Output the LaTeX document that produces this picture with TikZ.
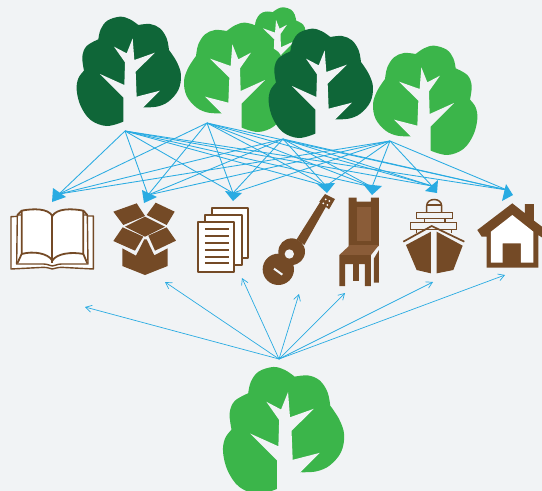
\documentclass[tikz,border=0pt]{standalone}
\usetikzlibrary{arrows.meta}
\definecolor{bg}{HTML}{F1F3F5}
\definecolor{lgreen}{HTML}{3BB54A}
\definecolor{dgreen}{HTML}{0F6638}
\definecolor{brown}{HTML}{744A26}
\definecolor{lbrown}{HTML}{8A5C38}
\definecolor{sky}{HTML}{29ABE2}
\tikzset{
  link/.style={draw=sky,line width=0.85pt},
  openlink/.style={draw=sky,line width=0.7pt,-{Straight Barb[length=6pt,width=7pt,line width=0.7pt]}},
  headtri/.style={fill=sky},
  bline/.style={draw=brown,line width=1.8pt,line join=round},
  bfill/.style={fill=brown},
  pagefill/.style={fill=white,draw=brown,line width=1.8pt,line join=round}
}
\newcommand{\drawtree}[1]{%
    \fill[#1] plot[smooth,tension=.6] coordinates{(160,365)(110,378)(62,360)(32,318)(20,270)(25,235)(42,212)}
      -- plot[smooth,tension=.6] coordinates{(42,212)(37,170)(50,138)(85,118)}
      -- plot[smooth,tension=.6] coordinates{(85,118)(92,88)(112,62)(150,50)(180,58)(205,75)}
      -- plot[smooth,tension=.6] coordinates{(205,75)(240,72)(270,85)(290,115)(297,150)}
      -- plot[smooth,tension=.6] coordinates{(297,150)(320,185)(333,225)(325,270)(295,305)(260,320)(220,322)} -- cycle;
    \fill[bg] (160,385)--(160,292)--(90,222)--(163,255)--(165,187)--(132,140)--(170,160)--(188,115)--(193,180)--(255,158)--(197,215)--(200,290)--(270,272)--(220,322)--(220,385)--cycle;
}
\begin{document}
\begin{tikzpicture}[x=1pt,y=-1pt]
\useasboundingbox (0,0) rectangle (542,491);
\fill[bg] (0,0) rectangle (542,491);
\clip (0,0) rectangle (542,491);
% trees; reference frame: px = offset + zoomcoord/3
\begin{scope}[shift={(312.7,-2.5)},xscale=-0.195,yscale=0.195]\drawtree{lgreen}\end{scope}
\begin{scope}[shift={(295,6)},xscale=-1/3,yscale=1/3]\drawtree{lgreen}\end{scope}
\begin{scope}[shift={(262,12)},xscale=1/3,yscale=1/3]\drawtree{dgreen}\end{scope}
\begin{scope}[shift={(70,0)},xscale=1/3,yscale=1/3]\drawtree{dgreen}\end{scope}
\begin{scope}[shift={(484,29)},xscale=-1/3,yscale=1/3]\drawtree{lgreen}\end{scope}
\begin{scope}[shift={(215.3,347.6)},xscale=0.387,yscale=0.387]\drawtree{lgreen}\end{scope}
% coordinates
\coordinate (srcA) at (125,131);
\coordinate (srcB) at (207,123);
\coordinate (srcC) at (283,139);
\coordinate (srcD) at (390,141);
\coordinate (srcE) at (279,359);
\coordinate (tBook) at (59,194);
\coordinate (tBox) at (148,195);
\coordinate (tPaper) at (233,193);
\coordinate (tGuitar) at (326,186);
\coordinate (tChair) at (372,187);
\coordinate (tShip) at (432,186);
\coordinate (tHouse) at (507,190);
\foreach \s in {srcA,srcB,srcC,srcD}
  \foreach \t in {tBook,tBox,tPaper,tGuitar,tChair,tShip,tHouse}
    \draw[link] (\s) -- (\t);
\fill[headtri] (53,188)--(52,202)--(66,197)--cycle;
\fill[headtri] (142,190)--(144,203)--(157,197)--cycle;
\fill[headtri] (225,191)--(233,201)--(242,193)--cycle;
\fill[headtri] (317,184)--(327,193)--(335,183)--cycle;
\fill[headtri] (363,184)--(372,195)--(382,186)--cycle;
\fill[headtri] (425,191)--(438,180)--(437,193)--cycle;
\fill[headtri] (502,201)--(506,184)--(513,195)--cycle;
\coordinate (bBook) at (85,307);
\coordinate (bBox) at (165,282);
\coordinate (bPaper) at (242,278);
\coordinate (bGuitar) at (299,294);
\coordinate (bChair) at (345,293);
\coordinate (bShip) at (433,282);
\coordinate (bHouse) at (505,275);
\foreach \t in {bBook,bBox,bPaper,bGuitar,bChair,bShip,bHouse}
  \draw[openlink] (srcE) -- (\t);
% icons left (zoom coords x/3, 180+y/3)
\begin{scope}[shift={(0,180)},xscale=1/3,yscale=1/3]
 % book
 \draw[pagefill,line width=1.4pt] (33,110)--(33,267)--(130,262) .. controls (145,262) and (150,266) .. (157,267) .. controls (165,266) and (170,262) .. (185,262)--(280,267)--(280,108)--(240,108)--(75,108)--cycle;
 \draw[pagefill,line width=1.4pt] (52,105)--(50,252)--(130,252) .. controls (145,252) and (150,258) .. (157,258) .. controls (165,258) and (170,252) .. (185,252)--(264,252)--(262,105)--cycle;
 \draw[pagefill] (65,92) .. controls (100,85) and (145,85) .. (157,108) .. controls (170,85) and (215,85) .. (250,92)--(250,222) .. controls (215,215) and (170,220) .. (157,242) .. controls (145,220) and (100,212) .. (65,222)--cycle;
 \draw[bline] (157,108)--(157,250);
 \draw[bline] (65,222)--(52,250);
 \draw[bline] (250,222)--(262,250);
 \draw[bline] (65,92)--(52,105);
 \draw[bline] (250,92)--(262,105);
 % box
 \fill[bfill] (340,95)--(410,70)--(435,108)--(370,135)--cycle;
 \fill[bfill] (440,105)--(467,68)--(524,95)--(500,135)--cycle;
 \fill[bfill] (375,140)--(435,110)--(495,140)--(435,170)--cycle;
 \fill[bfill] (340,183)--(368,142)--(430,170)--(405,212)--cycle;
 \fill[bfill] (445,167)--(500,142)--(528,182)--(465,212)--cycle;
 \fill[bfill] (367,205)--(408,227)--(433,178)--(440,178)--(463,226)--(503,205)--(503,258)--(435,285)--(367,258)--cycle;
 % papers
 \draw[pagefill] (635,85) rectangle (745,235);
 \draw[pagefill] (615,105) rectangle (725,255);
 \draw[pagefill] (595,127) rectangle (703,277);
 \foreach \yy in {146,167,188,209,230,248}
   \draw[brown,line width=1.8pt] (615,\yy)--(687,\yy);
\end{scope}
% icons right (260+x/3, 180+y/3)
\begin{scope}[shift={(260,180)},xscale=1/3,yscale=1/3]
 % guitar
 \fill[bfill] (110,178)--(183,62)--(202,73)--(133,195)--cycle;
 \fill[bfill] (178,65)--(195,42)--(225,57)--(207,88)--cycle;
 \fill[bfill] (95,215) circle[radius=40];
 \fill[bfill] (55,268) circle[radius=47];
 \fill[bg] (88,222) circle[radius=14];
 \draw[bg,line width=2pt] (42,266)--(67,284);
 \fill[white] (197,58) circle[radius=3];
 \fill[white] (208,63) circle[radius=3];
 \fill[white] (190,70) circle[radius=3];
 \fill[white] (202,75) circle[radius=3];
 % chair
 \fill[bfill] (266,53)--(290,53)--(290,65)--(333,65)--(333,53)--(357,53)--(357,198)--(266,198)--cycle;
 \fill[lbrown] (290,80) rectangle (333,183);
 \fill[lbrown] (238,225)--(270,195)--(357,195)--(333,225)--cycle;
 \fill[bfill] (238,225)--(333,225)--(333,318)--(315,318)--(315,252)--(255,252)--(255,318)--(238,318)--cycle;
 \fill[bfill] (280,252)--(297,252)--(297,303)--(280,303)--cycle;
 \fill[bfill] (342,235)--(357,210)--(357,308)--(342,308)--cycle;
 % ship
 \draw[brown,line width=1.5pt] (500,98)--(500,78) .. controls (500,52) and (545,52) .. (545,78)--(545,98);
 \draw[brown,line width=1.1pt] (500,75)--(545,75);
 \draw[brown,line width=1.4pt] (470,98) rectangle (577,115);
 \draw[brown,line width=1.4pt] (493,115) rectangle (555,127);
 \draw[brown,line width=1.4pt] (452,127) rectangle (590,148);
 \draw[brown,line width=1.4pt] (470,148)--(470,160);
 \draw[brown,line width=1.4pt] (575,148)--(575,160);
 \draw[brown,line width=1.7pt] (430,185)--(515,138)--(613,185);
 \fill[bfill] (438,195)--(513,155)--(513,280)--(470,270)--cycle;
 \fill[bfill] (530,155)--(608,197)--(580,270)--(530,280)--cycle;
 % house
 \fill[bfill] (652,150)--(757,70)--(795,100)--(795,72)--(822,72)--(822,122)--(850,143)--(850,175)--(835,165)--(835,263)--(680,263)--(680,170)--(665,170)--cycle;
 \fill[white] (693,248)--(693,155)--(757,105)--(820,155)--(820,248)--(783,248)--(783,190)--(728,190)--(728,248)--cycle;
\end{scope}
\end{tikzpicture}
\end{document}
